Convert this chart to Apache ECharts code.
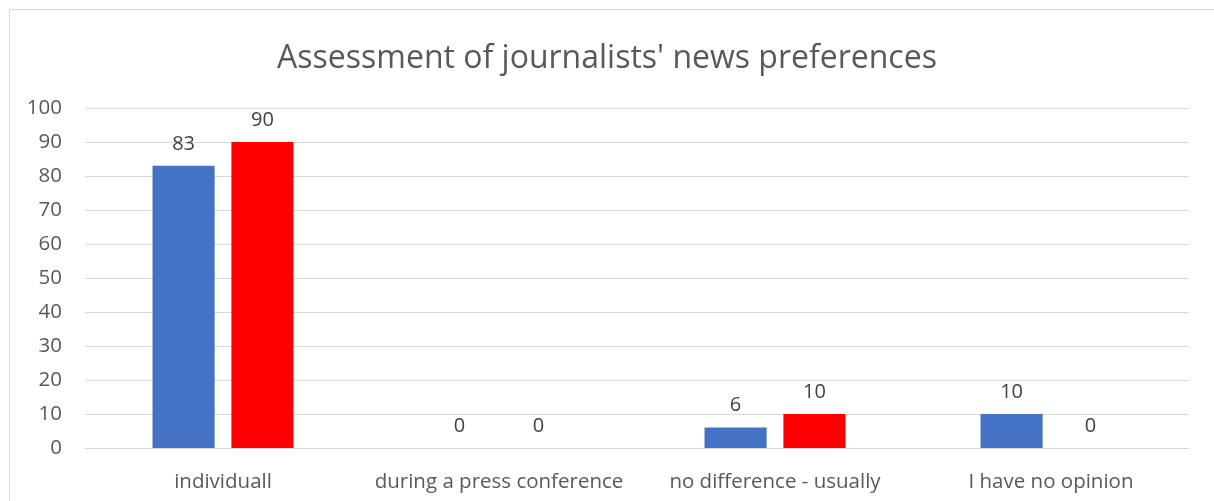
<!DOCTYPE html>
<html>
<head>
<meta charset="utf-8">
<script src="https://cdn.jsdelivr.net/npm/echarts@6/dist/echarts.min.js"></script>
<style>html,body{margin:0;padding:0;background:#fff}#c{width:1214px;height:501px}</style>
</head>
<body>
<div id="c"></div>
<script>
const titleText = "Assessment of journalists' news preferences";
const categories = ["individuall", "during a press conference", "no difference - usually", "I have no opinion"];
const seriesA = [83, 0, 6, 10];
const seriesB = [90, 0, 10, 0];
const yTicks = { min: 0, max: 100, interval: 10 };

const FONT = "'Open Sans', 'Liberation Sans', sans-serif";
const chart = echarts.init(document.getElementById('c'), null, { renderer: 'canvas' });
const labelStyle = { show: true, position: 'top', distance: 12, color: '#404040', fontSize: 20, fontFamily: FONT };
chart.setOption({
  animation: false,
  backgroundColor: '#fff',
  title: {
    text: titleText, left: 'center', top: 38,
    textStyle: { color: '#595959', fontSize: 32, fontWeight: 'normal', fontFamily: FONT }
  },
  graphic: [{
    type: 'rect', shape: { x: 9.5, y: 9.5, width: 1210, height: 510 },
    style: { fill: 'none', stroke: '#d9d9d9', lineWidth: 1 }, silent: true, z: 100
  }],
  grid: { left: 85, right: 25, top: 108, bottom: 53, containLabel: false },
  xAxis: {
    type: 'category', data: categories,
    axisLine: { lineStyle: { color: '#d9d9d9', width: 1 } },
    axisTick: { show: false },
    axisLabel: { color: '#595959', fontSize: 20.5, fontFamily: FONT, margin: 24, interval: 0 }
  },
  yAxis: {
    type: 'value', min: yTicks.min, max: yTicks.max, interval: yTicks.interval,
    axisLine: { show: false }, axisTick: { show: false },
    splitLine: { lineStyle: { color: '#d9d9d9', width: 1 } },
    axisLabel: { color: '#595959', fontSize: 20.5, fontFamily: FONT, margin: 23 }
  },
  series: [
    { type: 'bar', data: seriesA, barWidth: '22.5%', barGap: '27%', itemStyle: { color: '#4472C4' }, label: labelStyle },
    { type: 'bar', data: seriesB, barWidth: '22.5%', barGap: '27%', itemStyle: { color: '#FF0000' }, label: labelStyle }
  ]
});
</script>
</body>
</html>
